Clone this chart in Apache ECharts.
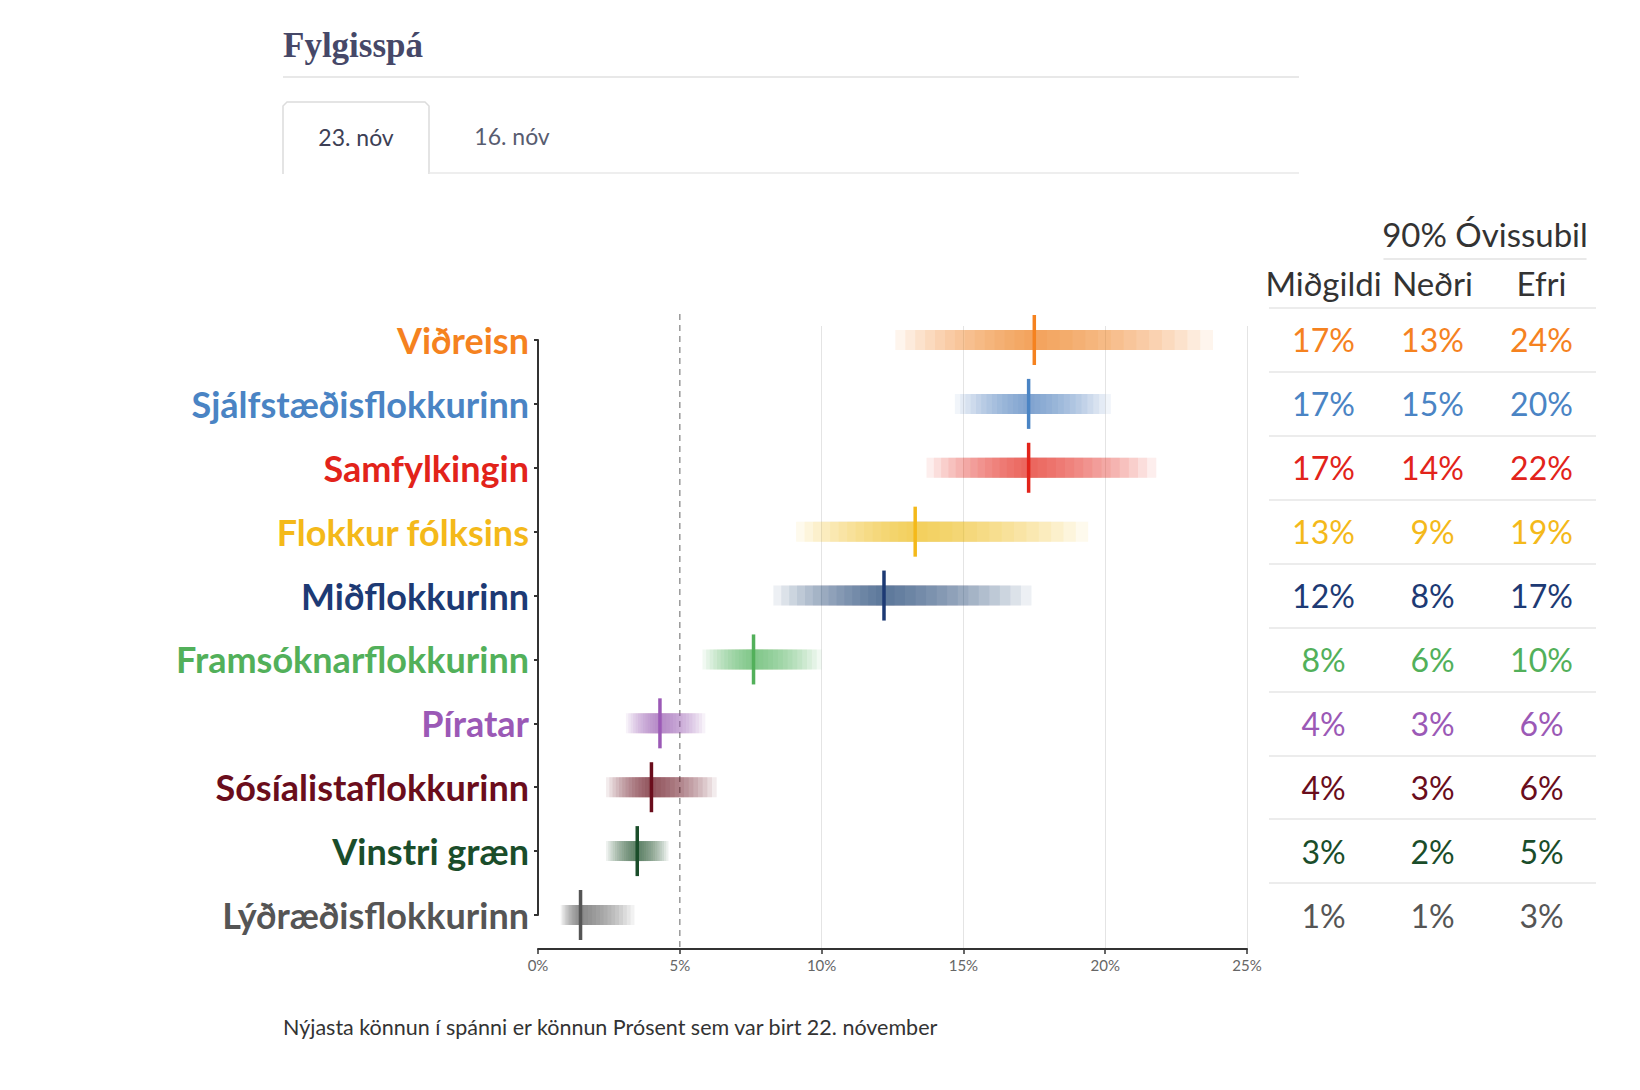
<!DOCTYPE html>
<html><head><meta charset="utf-8">
<script src="https://cdn.jsdelivr.net/npm/echarts@6/dist/echarts.min.js"></script>
<style>html,body{margin:0;padding:0;background:#fff}#c{width:1640px;height:1090px}</style>
</head><body><div id="c"></div>
<script>
// ---- data ----
const parties = ['Viðreisn','Sjálfstæðisflokkurinn','Samfylkingin','Flokkur fólksins','Miðflokkurinn','Framsóknarflokkurinn','Píratar','Sósíalistaflokkurinn','Vinstri græn','Lýðræðisflokkurinn'];
const partyColors = ['#f5821f','#4a84c4','#e2231a','#f4b91a','#1d3a74','#52b05a','#9b59b6','#6a0d1c','#1a4d2a','#555555'];
const medianPct = [17.5,17.3,17.3,13.3,12.2,7.6,4.3,4.0,3.5,1.5];
const bandLowPct = [12.6,14.7,13.7,9.1,8.3,5.8,3.1,2.4,2.4,0.8];
const bandHighPct = [23.8,20.2,21.8,19.4,17.4,10.0,5.9,6.3,4.6,3.4];
const tableMedian = [17,17,17,13,12,8,4,4,3,1];
const tableLower = [13,15,14,9,8,6,3,3,2,1];
const tableUpper = [24,20,22,19,17,10,6,6,5,3];
const tableColumns = ['Miðgildi','Neðri','Efri'];
const tableHeader = '90% Óvissubil';
const thresholdPct = 5;
const xMin = 0, xMax = 25, xStep = 5;
const tabs = ['23. nóv','16. nóv'];
const titleText = 'Fylgisspá';
const footText = 'Nýjasta könnun í spánni er könnun Prósent sem var birt 22. nóvember';

// ---- build ----
const bandData = parties.map((p,i)=>[bandLowPct[i], medianPct[i], bandHighPct[i], i]);
const tableCols = [tableMedian, tableLower, tableUpper];
const tableData = [];
parties.forEach((p,i)=>{ tableCols.forEach((col,j)=>{ tableData.push([j, i, col[i]]); }); });

function renderBand(params, api){
  const lo = api.value(0), med = api.value(1), hi = api.value(2), cat = api.value(3);
  const c = api.coord([med, cat]);
  const pLo = api.coord([lo, cat]), pHi = api.coord([hi, cat]);
  const color = partyColors[params.dataIndex];
  const N = 14, h = 20;
  const children = [];
  for (let k=1;k<=N;k++){
    const x0 = c[0] - (c[0]-pLo[0])*k/N;
    const x1 = c[0] + (pHi[0]-c[0])*k/N;
    children.push({type:'rect', shape:{x:x0,y:c[1]-h/2,width:x1-x0,height:h}, style:{fill:color, opacity:0.08}});
  }
  children.push({type:'rect', shape:{x:c[0]-1.75, y:c[1]-25, width:3.5, height:50}, style:{fill:color}});
  return {type:'group', children};
}
function renderThreshold(params, api){
  const v = api.value(0);
  const a = api.coord([v, 1]), b = api.coord([v, 0]);
  return {type:'line', shape:{x1:a[0],y1:a[1],x2:b[0],y2:b[1]}, style:{stroke:'#999', lineWidth:1.5, lineDash:[6,5]}};
}
function renderCell(params, api){
  const col = api.value(0), row = api.value(1), val = api.value(2);
  const p = api.coord([col, row]);
  return {type:'text', x:p[0], y:p[1], style:{text: val + '%', textAlign:'center', textVerticalAlign:'middle', fill: partyColors[row], font:'32px Lato'}};
}

const chart = echarts.init(document.getElementById('c'), null, {renderer:'svg'});
chart.setOption({
  backgroundColor:'#ffffff',
  animation:false,
  grid:[
    {left:538, right:393, top:340, height:575},
    {left:538, right:393, top:326, bottom:141},
    {left:538, right:393, top:314, bottom:141},
    {left:1269, right:44, top:308, height:639},
    {left:1384, right:54, top:258, height:1}
  ],
  xAxis:[
    {gridIndex:0, type:'value', min:xMin, max:xMax, show:false},
    {gridIndex:1, type:'value', min:xMin, max:xMax, interval:xStep,
      axisLine:{lineStyle:{color:'#333', width:2}},
      axisTick:{length:5, lineStyle:{color:'#333', width:1.5}},
      axisLabel:{formatter:'{value}%', color:'#666', fontSize:15, fontFamily:'Lato', margin:8},
      splitLine:{show:true, lineStyle:{color:['transparent','transparent','#e4e4e4','#e4e4e4','#e4e4e4','#e4e4e4'], width:1}}},
    {gridIndex:2, type:'value', min:xMin, max:xMax, show:false},
    {gridIndex:3, type:'category', data:tableColumns, position:'top',
      axisLine:{show:false}, axisTick:{show:false},
      axisLabel:{interval:0, fontSize:33, color:'#333', fontFamily:'Lato', margin:9}},
    {gridIndex:4, type:'value', min:0, max:1, position:'top',
      axisLine:{lineStyle:{color:'#e2e2e2', width:1.5}}, axisTick:{show:false}, axisLabel:{show:false}, splitLine:{show:false},
      name:tableHeader, nameLocation:'middle', nameGap:8,
      nameTextStyle:{fontSize:33, color:'#333', fontFamily:'Lato'}}
  ],
  yAxis:[
    {gridIndex:0, type:'category', data:parties, inverse:true, boundaryGap:false,
      axisLine:{lineStyle:{color:'#333', width:2}},
      axisTick:{show:true, length:4, lineStyle:{color:'#333', width:2}},
      axisLabel:{interval:0, fontFamily:'Lato', fontWeight:'bold', fontSize:36, margin:9,
        color:(v,i)=>partyColors[i]}},
    {gridIndex:1, type:'value', show:false},
    {gridIndex:2, type:'value', min:0, max:1, show:false},
    {gridIndex:3, type:'category', data:parties, inverse:true,
      axisLine:{show:false}, axisTick:{show:false}, axisLabel:{show:false},
      splitLine:{show:true, showMaxLine:false, lineStyle:{color:'#e6e6e6', width:1.5}}},
    {gridIndex:4, type:'value', show:false}
  ],
  series:[
    {type:'custom', xAxisIndex:2, yAxisIndex:2, data:[[thresholdPct]], renderItem:renderThreshold, silent:true, z:1},
    {type:'custom', xAxisIndex:0, yAxisIndex:0, data:bandData, encode:{x:[0,1,2], y:3}, renderItem:renderBand, silent:true, z:3},
    {type:'custom', xAxisIndex:3, yAxisIndex:3, data:tableData, encode:{x:0, y:1}, renderItem:renderCell, silent:true}
  ],
  graphic:[
    {type:'text', x:283, y:45, style:{text:titleText, font:'bold 35px "Liberation Serif"', fill:'#464868', textVerticalAlign:'middle'}},
    {type:'line', shape:{x1:283,y1:77,x2:1299,y2:77}, style:{stroke:'#e0e0e0', lineWidth:1.5}},
    {type:'polyline', shape:{points:[[283,174],[283,106],[287,102],[425,102],[429,106],[429,174]]}, style:{stroke:'#dcdcdc', lineWidth:1.5, fill:null}},
    {type:'line', shape:{x1:429,y1:173,x2:1299,y2:173}, style:{stroke:'#e8e8e8', lineWidth:1.5}},
    {type:'text', x:356, y:137, style:{text:tabs[0], font:'23px Lato', fill:'#3d4055', textAlign:'center', textVerticalAlign:'middle'}},
    {type:'text', x:512, y:136, style:{text:tabs[1], font:'23px Lato', fill:'#585c70', textAlign:'center', textVerticalAlign:'middle'}},
    {type:'text', x:283, y:1027, style:{text:footText, font:'21.5px Lato', fill:'#333', textVerticalAlign:'middle'}}
  ]
});
</script>
</body></html>
